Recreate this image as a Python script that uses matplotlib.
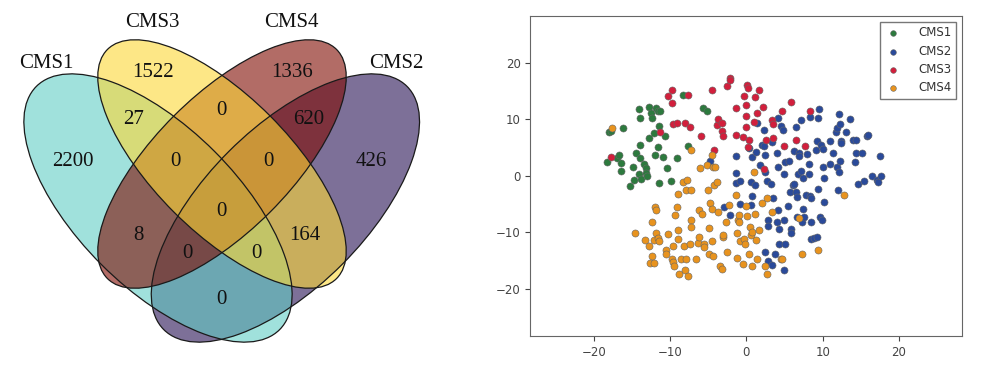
import numpy as np
import matplotlib
matplotlib.use("Agg")
from matplotlib import pyplot as plt
from matplotlib.patches import Ellipse

# ---- venn counts ----
set_names = ['CMS1', 'CMS3', 'CMS4', 'CMS2']
region_keys = ['1', '3', '4', '2', '13', '42', '34', '134', '342', '1342',
               '14', '32', '142', '132', '12']
region_counts = [2200, 1522, 1336, 426, 27, 620, 0, 0, 0, 0, 8, 164, 0, 0, 0]

# ---- t-SNE points ----
cms1_x = [-18.2, -18.0, -17.8, -17.0, -16.7, -16.4, -16.4, -16.1, -15.3, -14.9,
          -14.7, -14.5, -14.1, -14.0, -14.0, -14.0, -14.1, -13.8, -13.4, -13.2,
          -13.1, -13.0, -12.8, -12.7, -12.5, -12.3, -12.1, -12.0, -11.8, -11.6,
          -11.6, -11.5, -11.4, -11.3, -10.9, -10.6, -10.4, -9.9, -9.1, -8.3,
          -7.7, -5.7, -5.1]
cms1_y = [2.4, 7.8, 8.0, 3.1, 3.6, 2.2, 0.9, 8.4, -1.8, 1.6,
          -0.7, 4.1, 11.8, 3.1, 10.3, 5.5, 0.4, -0.6, 2.1, 1.4,
          0.5, -0.1, 6.6, 12.1, 11.1, 10.2, 7.5, 3.6, 11.9, 11.5,
          5.0, 8.8, -1.3, 11.4, 3.4, 7.1, 1.4, -1.0, 3.1, 14.2,
          5.3, 11.9, 11.4]

cms2_x = [-4.7, -1.3, -1.3, -1.4, -0.8, 0.4, 0.7, 0.6, 0.8, 1.1,
          1.2, 1.4, 1.8, 2.0, 2.3, 2.3, 2.4, 2.5, 2.7, 2.8,
          2.9, 2.5, 2.8, 3.2, 3.4, 3.5, 3.3, 3.8, 4.0, 4.1,
          4.2, 4.0, 4.2, 4.3, 4.3, 4.6, 4.8, 4.9, 4.9, 5.0,
          5.0, 4.9, 5.6, 5.5, 5.7, 5.8, 5.9, 6.1, 6.2, 6.3,
          6.5, 6.6, 6.5, 6.7, 6.8, 6.9, 7.1, 6.9, 7.1, 7.3,
          7.4, 7.4, 7.6, 7.8, 8.0, 8.3, 8.2, 8.2, 8.3, 8.5,
          8.5, 8.5, 8.9, 9.2, 9.1, 9.2, 9.4, 9.5, 9.4, 9.6,
          9.8, 9.9, 10.0, 10.1, 10.2, 10.2, 11.0, 11.0, 11.7, 11.9,
          11.9, 12.0, 12.2, 12.2, 12.3, 12.4, 12.4, 12.3, 13.0, 13.6,
          14.0, 14.2, 14.3, 14.4, 14.6, 15.1, 15.4, 15.8, 16.0, 16.4,
          17.1, 17.3, 17.5, 17.6, 11.4, -2.9, -2.1, -0.8, 0.6]
cms2_y = [2.7, 3.5, 0.5, -1.2, -0.9, 4.9, 3.4, -1.1, -3.5, -1.7,
          4.2, 9.3, 1.9, 5.4, 8.1, 5.3, 3.6, 0.6, -1.0, -7.9,
          -8.8, -13.4, -15.1, -1.5, 6.0, -4.0, -15.8, -13.9, 4.1, 1.6,
          10.2, -8.1, -6.0, -9.4, -12.1, 8.8, 8.1, 0.4, -7.8, 2.5,
          -12.1, -16.7, 2.6, -5.3, -2.9, -9.4, -10.1, -1.7, 4.3, -1.4,
          -2.8, -3.8, 8.7, -7.2, 0.4, 4.0, 0.8, 3.5, 9.9, -8.2,
          -0.4, -5.8, -7.2, -3.4, 3.8, 10.4, 2.1, 0.3, -3.6, -3.9,
          -8.1, -11.1, -11.0, -10.9, 4.5, 6.1, 10.3, 11.8, -2.3, -7.2,
          5.5, -7.9, 1.6, 4.7, -0.4, -4.6, 2.1, 6.1, 7.8, 1.6,
          8.4, -2.5, 10.9, 0.6, 9.1, 6.1, 5.8, 2.7, 7.7, 10.0,
          6.4, 2.5, 4.0, 6.4, -1.4, 4.0, -1.0, 7.1, 7.2, -0.1,
          -0.8, -1.1, 3.5, 0.0, 4.0, -5.5, -7.0, -5.0, -5.1]

cms3_x = [-17.7, -11.3, -10.3, -9.8, -9.7, -9.6, -9.1, -8.0, -7.7, -7.4,
          -6.0, -4.5, -4.2, -3.9, -3.7, -3.2, -3.2, -3.1, -2.5, -2.2,
          -2.1, -1.4, -1.4, -0.5, -0.3, -0.1, 0.0, 0.1, 0.2, 0.0,
          0.3, 0.2, 1.0, 1.1, 1.4, 1.7, 2.2, 2.3, 2.6, 3.3,
          3.5, 3.5, 4.7, 4.9, 5.9, 6.5, 7.7, 8.4]
cms3_y = [3.3, 7.7, 14.1, 15.1, 12.8, 9.2, 9.4, 9.4, 14.3, 8.7,
          7.1, 15.2, 4.6, 9.0, 10.1, 9.3, 8.0, 7.1, 15.8, 17.2,
          16.9, 11.9, 7.2, 6.8, 14.1, 12.6, 8.6, 16.0, 15.6, 10.5,
          6.4, 5.1, 9.5, 13.9, 11.1, 15.2, 12.2, 1.2, 6.3, 9.9,
          9.1, 6.7, 11.5, 5.3, 13.1, 6.4, 5.2, 11.5]

cms4_x = [-17.6, -14.6, -13.3, -12.8, -12.4, -12.3, -12.6, -12.1, -12.1, -12.0,
          -11.9, -11.8, -11.6, -11.4, -10.5, -10.5, -10.3, -9.7, -9.6, -9.6,
          -9.5, -9.4, -9.1, -9.0, -8.9, -8.9, -8.8, -8.5, -8.3, -8.2,
          -8.0, -7.9, -7.8, -7.9, -7.7, -7.4, -7.3, -7.2, -7.3, -7.3,
          -6.6, -6.3, -6.2, -6.1, -6.2, -5.8, -5.6, -5.5, -5.0, -5.1,
          -4.9, -4.9, -4.7, -4.5, -4.5, -4.4, -4.4, -4.5, -4.3, -4.1,
          -3.9, -3.7, -3.4, -3.2, -3.1, -3.0, -2.7, -2.6, -2.3, -1.4,
          -1.2, -1.2, -1.1, -1.0, -1.0, -0.8, -0.5, -0.3, -0.2, 0.0,
          0.1, 0.4, 0.5, 0.6, 0.7, 0.8, 1.0, 1.1, 1.2, 1.4,
          1.7, 2.0, 2.4, 2.7, 2.7, 3.4, 4.5, 4.7, 6.9, 7.3,
          9.4, 12.8]
cms4_y = [8.4, -10.2, -11.3, -12.5, -8.1, -14.2, -15.5, -15.5, -11.3, -5.5,
          -6.1, -10.2, -11.0, -11.6, -13.1, -13.9, -10.3, -14.7, -12.5, -15.3,
          -15.9, -7.0, -5.5, -3.2, -9.5, -11.1, -17.3, -14.7, -1.1, -12.5,
          -16.7, -14.7, -0.8, -2.5, -17.8, -12.1, 4.6, -2.6, -7.9, -9.1,
          -14.7, -11.9, -10.9, 1.4, -6.0, -6.7, -12.1, -12.6, -2.5, 1.9,
          -13.8, -9.2, -4.8, -5.9, 3.7, -14.1, 1.5, -11.5, -1.7, 1.6,
          -1.1, -6.4, -15.9, -16.5, -10.9, -10.4, -8.2, -13.4, -5.1, -3.4,
          -10.1, -14.6, -7.9, -7.0, -8.2, -11.6, -15.6, -11.2, -12.1, -5.3,
          -7.1, -13.9, -9.1, -10.5, -15.9, -10.0, 0.6, -6.7, -11.3, -14.7,
          -9.5, -4.8, -15.9, -17.3, -3.9, -6.4, -14.7, -14.7, -7.5, -13.9,
          -13.1, -3.4]

plt.rcParams['font.family'] = 'DejaVu Sans'

fig = plt.figure(figsize=(9.84, 3.74), dpi=100)

# ================= left: venn =================
ax1 = fig.add_axes([0, 0, 490 / 984, 1])
ax1.set_xlim(0, 490)
ax1.set_ylim(374, 0)
ax1.axis('off')

# (center, width, height, angle, colour) in pixel coords, y pointing down
ell = {
    'CMS2': ((285.4, 208), 344, 160, -45, '#261153'),
    'CMS1': ((158.0, 208), 344, 160, 45, '#61cdc5'),
    'CMS4': ((222.0, 164), 324, 136, -45, '#800a00'),
    'CMS3': ((222.0, 164), 324, 136, 45, '#fdd835'),
}
order = ['CMS2', 'CMS1', 'CMS4', 'CMS3']
for name in order:
    c, w, h, ang, col = ell[name]
    ax1.add_patch(Ellipse(c, w, h, angle=ang, facecolor=col, alpha=0.6,
                          edgecolor='none'))
for name in order:
    c, w, h, ang, col = ell[name]
    ax1.add_patch(Ellipse(c, w, h, angle=ang, facecolor='none',
                          edgecolor='#1a1a1a', linewidth=0.9))

serif = 'Liberation Serif'
name_pos = {'CMS1': (46, 63), 'CMS3': (152, 22), 'CMS4': (291, 22), 'CMS2': (396, 63)}
for name in set_names:
    ax1.text(*name_pos[name], name, ha='center', va='center', fontsize=15,
             family=serif, color='#111111')

num_pos = {'1': (73, 161), '3': (153, 72), '4': (292, 72), '2': (371, 161),
           '13': (134, 119), '42': (309, 119), '34': (221, 110),
           '134': (175, 161), '342': (268, 161), '1342': (221, 211),
           '14': (138, 235), '32': (305, 235), '142': (187, 254),
           '132': (256, 254), '12': (221, 300)}
for k, v in zip(region_keys, region_counts):
    ax1.text(*num_pos[k], str(v), ha='center', va='center', fontsize=15,
             family=serif, color='#111111')

# ================= right: scatter =================
ax2 = fig.add_axes([0.539, 0.102, 0.439, 0.856])
cols = ['#2d7a3e', '#2a4a9a', '#d21f3c', '#e8931e']
groups = [(cms1_x, cms1_y), (cms2_x, cms2_y), (cms3_x, cms3_y), (cms4_x, cms4_y)]
for (gx, gy), c, lab in zip(groups, cols, ['CMS1', 'CMS2', 'CMS3', 'CMS4']):
    ax2.scatter(gx, gy, s=26, c=c, edgecolors='#666666', linewidths=0.4,
                label=lab)
ax2.set_xlim(-28.3, 28.3)
ax2.set_ylim(-28.3, 28.3)
ax2.set_xticks([-20, -10, 0, 10, 20])
ax2.set_yticks([-20, -10, 0, 10, 20])
ax2.tick_params(labelsize=8.5, colors='#444444', length=3.5)
for sp in ax2.spines.values():
    sp.set_color('#666666')
leg = ax2.legend(loc='upper right', fontsize=8.5, fancybox=False,
                 edgecolor='#555555', labelspacing=0.45, handlelength=1.4,
                 handletextpad=1.5, borderaxespad=0.5, markerscale=0.8)
for t in leg.get_texts():
    t.set_color('#333333')

fig.savefig('out.png', dpi=100)
